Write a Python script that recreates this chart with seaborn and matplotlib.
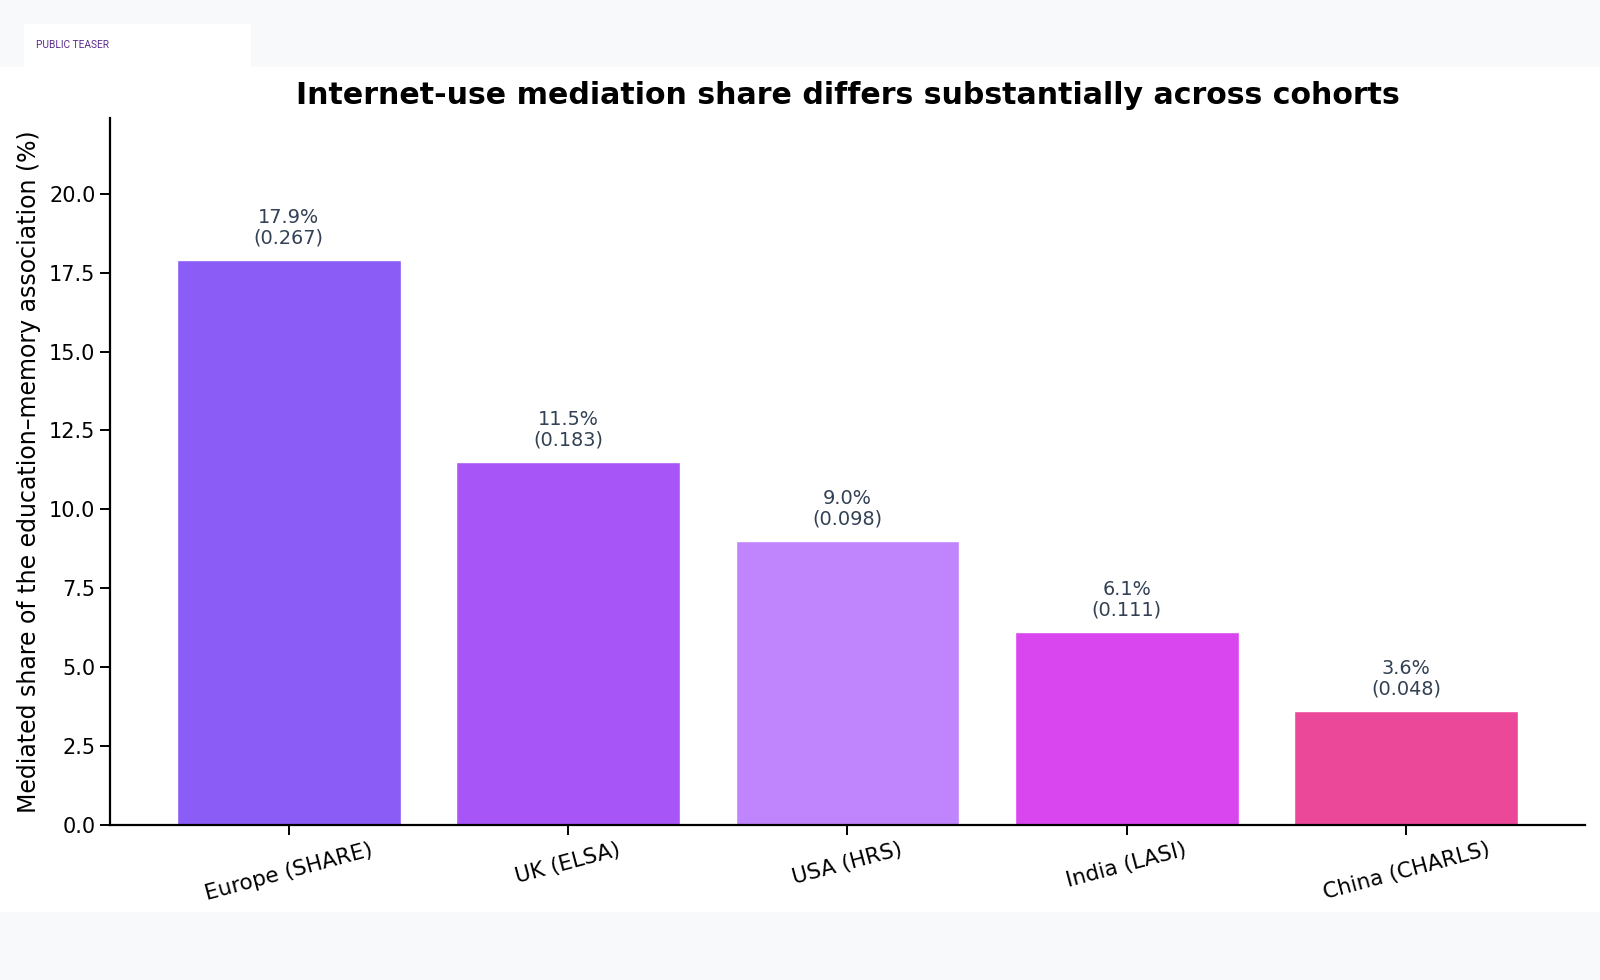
import matplotlib
matplotlib.use("Agg")
import matplotlib.pyplot as plt
import seaborn as sns
import pandas as pd
from matplotlib.patches import Rectangle

cohorts = ["Europe (SHARE)", "UK (ELSA)", "USA (HRS)", "India (LASI)", "China (CHARLS)"]
share_pct = [17.9, 11.5, 9.0, 6.1, 3.6]
indirect = [0.267, 0.183, 0.098, 0.111, 0.048]
colors = ["#8b5cf6", "#a855f7", "#c084fc", "#d946ef", "#ec4899"]

df = pd.DataFrame({"cohort": cohorts, "share": share_pct})

sns.set_theme(style="white")
plt.rcParams["font.family"] = ["DejaVu Sans"]

fig = plt.figure(figsize=(16, 9.8), dpi=100, facecolor="#f8f9fb")
# white card
fig.patches.append(Rectangle((0, 0.0694), 1, 0.9316 - 0.0694, transform=fig.transFigure,
                             facecolor="white", edgecolor="none", zorder=-10))
fig.patches.append(Rectangle((24 / 1600, 1 - 67 / 980), (251 - 24) / 1600, (67 - 24) / 980,
                             transform=fig.transFigure, facecolor="white", edgecolor="none", zorder=-10))
fig.text(36 / 1600, 1 - 44.5 / 980, "PUBLIC TEASER", family=["Roboto", "DejaVu Sans"], fontsize=7.3,
         color="#5b2d8e", va="center", ha="left")

ax = fig.add_axes([0.06875, 0.1582, 0.9906 - 0.06875, 0.8796 - 0.1582])
ax.set_zorder(1)
ax.set_facecolor("white")
sns.barplot(data=df, x="cohort", y="share", hue="cohort", palette=dict(zip(cohorts, colors)),
            legend=False, width=0.8, edgecolor="white", linewidth=1, saturation=1, ax=ax)

for i, (v, b) in enumerate(zip(share_pct, indirect)):
    ax.annotate(f"{v:.1f}%\n({b:.3f})", xy=(i, v), xytext=(0, 9), textcoords="offset points",
                ha="center", va="bottom", fontsize=13.9, color="#334155", linespacing=1.1)

ax.set_xlim(-0.64, 4.64)
ax.set_ylim(0, 22.4)
ax.set_yticks([0, 2.5, 5, 7.5, 10, 12.5, 15, 17.5, 20])
ax.set_yticklabels([f"{t:.1f}" for t in [0, 2.5, 5, 7.5, 10, 12.5, 15, 17.5, 20]])
ax.set_xlabel("")
ax.set_ylabel("Mediated share of the education\u2013memory association (%)", fontsize=17, color="black",
              labelpad=6)
ax.set_title("Internet-use mediation share differs substantially across cohorts",
             fontsize=21.6, fontweight="bold", pad=10, color="black")
ax.tick_params(axis="y", labelsize=15, colors="black", length=7, width=1.4, direction="out")
ax.tick_params(axis="x", labelsize=15.5, colors="black", length=7, width=1.4, direction="out")
ax.tick_params(axis="both", bottom=True, left=True)
plt.setp(ax.get_xticklabels(), rotation=15, ha="center")
for s in ["top", "right"]:
    ax.spines[s].set_visible(False)
for s in ["left", "bottom"]:
    ax.spines[s].set_color("black")
    ax.spines[s].set_linewidth(1.6)

fig.savefig("out.png", dpi=100, facecolor=fig.get_facecolor())
